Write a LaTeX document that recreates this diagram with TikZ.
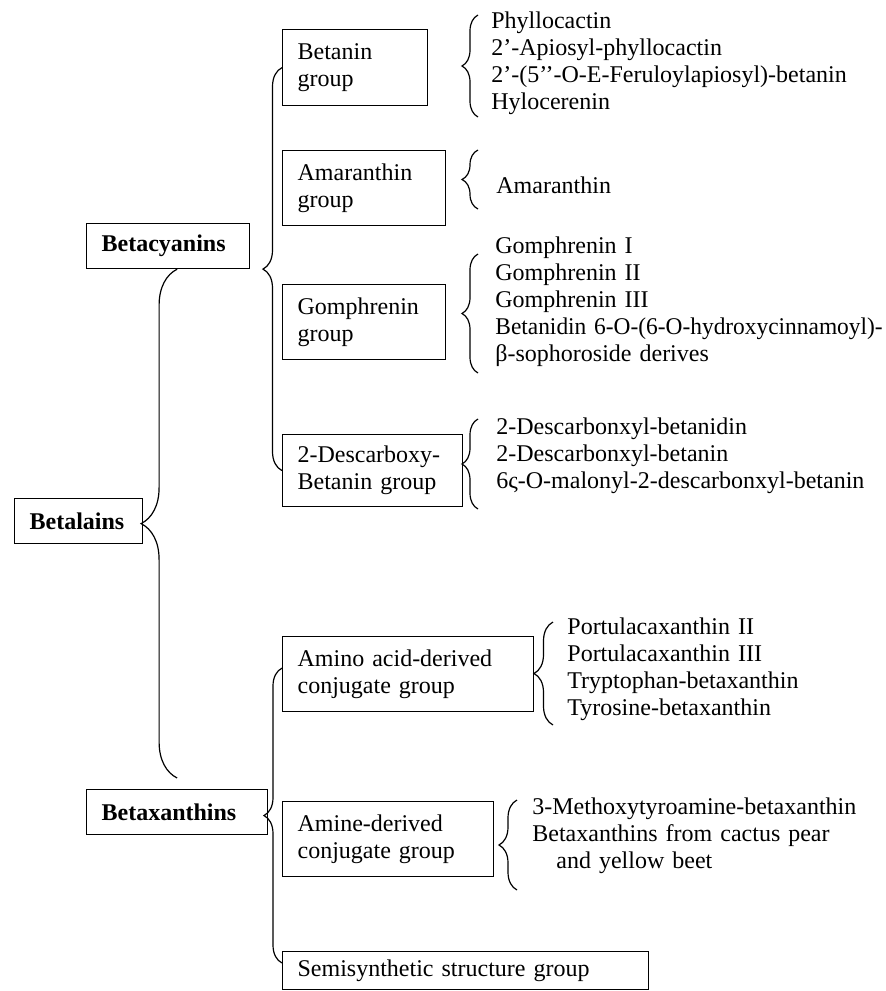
\documentclass[tikz,border=0pt]{standalone}
\usepackage{fontspec}
\setmainfont{Liberation Serif}
\usetikzlibrary{positioning, calc, decorations.pathreplacing}

\begin{document}
\begin{tikzpicture}[x=0.5pt, y=-0.5pt,
    every node/.style={font=\fontsize{12pt}{13.5pt}\selectfont},
    grp/.style n args={2}{draw, line width=0.6pt, anchor=north west, align=left,
      inner xsep=7.5pt, inner ysep=0pt, text width=#1, minimum height=#2},
    lst/.style={anchor=base west, align=left, inner sep=0pt, text width=210pt},
    brc/.style={decorate, decoration={brace, amplitude=#1}, line width=0.6pt}]
  \useasboundingbox (0,0) rectangle (885,991);
  \node[grp={66.5pt}{22.5pt}] (bcy) at (86,223) {\textbf{Betacyanins}};
  \node[grp={49pt}{22.5pt}] (btl) at (14,498) {\textbf{Betalains}};
  \node[grp={75.5pt}{22.5pt}] (bxa) at (86,789) {\textbf{Betaxanthins}};
  \node[grp={57.5pt}{38pt}] (bet) at (282,29) {Betanin\\group};
  \node[grp={66.5pt}{37.5pt}] (ama) at (282,150) {Amaranthin\\group};
  \node[grp={66.5pt}{37.5pt}] (gom) at (282,284) {Gomphrenin\\group};
  \node[grp={75pt}{36pt}] (dsc) at (282,434) {2-Descarboxy-\\Betanin group};
  \node[grp={110.5pt}{37.5pt}] (ami) at (282,636) {Amino acid-derived\\conjugate group};
  \node[grp={90.5pt}{37.5pt}] (amn) at (282,801) {Amine-derived\\conjugate group};
  \node[grp={168pt}{19pt}] (sem) at (282,951) {Semisynthetic structure group};

  \node[lst] (lbet) at (491,28) {Phyllocactin\\2’-Apiosyl-phyllocactin\\2’-(5’’-O-E-Feruloylapiosyl)-betanin\\Hylocerenin};
  \node[lst] (lama) at (496,193) {Amaranthin};
  \node[lst] (lgom) at (495,253) {Gomphrenin I\\Gomphrenin II\\Gomphrenin III\\\scalebox{0.975}[1]{Betanidin 6-O-(6-O-hydroxycinnamoyl)-}\\β-sophoroside derives};
  \node[lst] (ldsc) at (496,434) {2-Descarbonxyl-betanidin\\2-Descarbonxyl-betanin\\6ς-O-malonyl-2-descarbonxyl-betanin};
  \node[lst] (lami) at (567,634) {Portulacaxanthin II\\Portulacaxanthin III\\Tryptophan-betaxanthin\\Tyrosine-betaxanthin};
  \node[lst] (lamn) at (532,814) {3-Methoxytyroamine-betaxanthin\\Betaxanthins from cactus pear\\\hspace*{12pt}and yellow beet};

  \draw[brc=18pt] ($(bxa.north)+(0,-11)$) -- (bcy.south -| bxa.north);
  \draw[brc=9.5pt] (dsc.west) -- (bet.west);
  \draw[brc=9pt] ($(sem.north west)+(0,12)$) -- ($(ami.west)+(0,-6)$);
  \foreach \x/\ya/\yb/\a in {478/117/15/8pt, 478/209/150/8pt, 478/373/254/8pt,
      478/509/419/8pt, 553/725/622/9.5pt, 517/890/800/9pt}
    \draw[brc=\a] (\x,\ya) -- (\x,\yb);
\end{tikzpicture}
\end{document}
